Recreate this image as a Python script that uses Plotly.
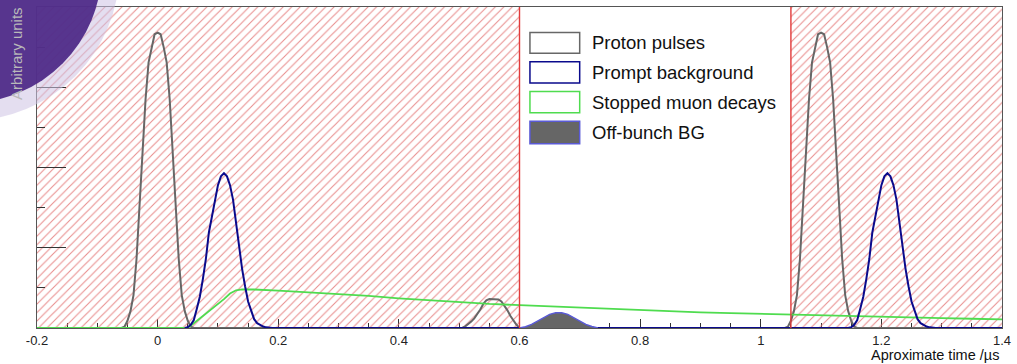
import plotly.graph_objects as go

# ---------------------------------------------------------------- data
# Proton pulses (arbitrary units), three bunches
proton_a_t = [-0.06, -0.055, -0.05, -0.045, -0.04, -0.035, -0.03, -0.025, -0.02, -0.015, -0.01, -0.005,
              0.0, 0.005, 0.01, 0.015, 0.02, 0.025, 0.03, 0.035, 0.04, 0.045, 0.05, 0.055, 0.06]
proton_a_y = [0.0, 0.015, 0.09, 0.21, 0.41, 0.86, 1.52, 2.21, 2.85, 3.31, 3.50, 3.66,
              3.68, 3.66, 3.50, 3.31, 2.85, 2.21, 1.52, 0.86, 0.41, 0.21, 0.09, 0.015, 0.0]

proton_b_t = [0.505, 0.51, 0.515, 0.52, 0.525, 0.53, 0.535, 0.54, 0.545, 0.55, 0.555, 0.56,
              0.565, 0.57, 0.575, 0.58, 0.585, 0.59, 0.595, 0.6]
proton_b_y = [0.0, 0.02, 0.045, 0.08, 0.12, 0.17, 0.23, 0.30, 0.345, 0.36, 0.36, 0.36,
              0.355, 0.33, 0.28, 0.22, 0.15, 0.09, 0.04, 0.0]

proton_c_t = [1.04, 1.045, 1.05, 1.055, 1.06, 1.065, 1.07, 1.075, 1.08, 1.085, 1.09, 1.095,
              1.1, 1.105, 1.11, 1.115, 1.12, 1.125, 1.13, 1.135, 1.14, 1.145, 1.15, 1.155, 1.16]
proton_c_y = [0.0, 0.015, 0.09, 0.21, 0.41, 0.86, 1.52, 2.21, 2.85, 3.31, 3.50, 3.66,
              3.68, 3.66, 3.50, 3.31, 2.85, 2.21, 1.52, 0.86, 0.41, 0.21, 0.09, 0.015, 0.0]

# Prompt background following each main pulse
prompt_a_t = [0.045, 0.05, 0.055, 0.06, 0.065, 0.07, 0.075, 0.08, 0.085, 0.09, 0.095, 0.1, 0.105,
              0.11, 0.115, 0.12, 0.125, 0.13, 0.135, 0.14, 0.145, 0.15, 0.155, 0.16, 0.165,
              0.17, 0.175, 0.18, 0.185, 0.19]
prompt_a_y = [0.0, 0.01, 0.04, 0.10, 0.24, 0.39, 0.61, 0.86, 1.19, 1.40, 1.62, 1.78, 1.89,
              1.93, 1.89, 1.78, 1.60, 1.31, 0.98, 0.74, 0.52, 0.33, 0.22, 0.11, 0.06,
              0.035, 0.018, 0.008, 0.003, 0.0]

prompt_b_t = [1.145, 1.15, 1.155, 1.16, 1.165, 1.17, 1.175, 1.18, 1.185, 1.19, 1.195, 1.2, 1.205,
              1.21, 1.215, 1.22, 1.225, 1.23, 1.235, 1.24, 1.245, 1.25, 1.255, 1.26, 1.265,
              1.27, 1.275, 1.28, 1.285, 1.29]
prompt_b_y = [0.0, 0.01, 0.04, 0.10, 0.24, 0.39, 0.61, 0.86, 1.19, 1.40, 1.62, 1.78, 1.89,
              1.93, 1.89, 1.78, 1.60, 1.31, 0.98, 0.74, 0.52, 0.33, 0.22, 0.11, 0.06,
              0.035, 0.018, 0.008, 0.003, 0.0]

# Stopped muon decays
muon_t = [-0.2, 0.05, 0.06, 0.07, 0.08, 0.09, 0.1, 0.11, 0.12, 0.13, 0.14, 0.15, 0.16,
          0.2, 0.25, 0.3, 0.35, 0.4, 0.45, 0.5, 0.55, 0.6, 0.65, 0.7, 0.75, 0.8, 0.85, 0.9,
          0.95, 1.0, 1.05, 1.1, 1.15, 1.2, 1.25, 1.3, 1.35, 1.4]
muon_y = [0.0, 0.0, 0.06, 0.12, 0.17, 0.23, 0.29, 0.36, 0.43, 0.47, 0.48, 0.48, 0.48,
          0.465, 0.445, 0.425, 0.40, 0.37, 0.345, 0.32, 0.30, 0.285, 0.27, 0.25, 0.235, 0.22,
          0.21, 0.195, 0.185, 0.175, 0.165, 0.155, 0.145, 0.138, 0.13, 0.122, 0.115, 0.108]

# Off-bunch background inside the measurement window
offbunch_t = [0.6, 0.61, 0.62, 0.63, 0.64, 0.65, 0.66, 0.67, 0.68, 0.69, 0.7, 0.71, 0.72, 0.73]
offbunch_y = [0.0, 0.015, 0.045, 0.09, 0.135, 0.17, 0.19, 0.19, 0.17, 0.13, 0.085, 0.045, 0.018, 0.0]

# Vetoed time ranges (hatched) and the measurement-window edges
veto_windows = [(-0.2, 0.6), (1.05, 1.4)]
window_edges = [0.6, 1.05]

x_range = [-0.2, 1.4]
y_range = [0.0, 4.0]
x_tick_vals = [-0.2, 0, 0.2, 0.4, 0.6, 0.8, 1, 1.2, 1.4]
x_tick_text = ["-0.2", "0", "0.2", "0.4", "0.6", "0.8", "1", "1.2", "1.4"]

legend_labels = ["Proton pulses", "Prompt background", "Stopped muon decays", "Off-bunch BG"]

# ---------------------------------------------------------------- styling
W, H = 1017, 364
ML, MR, MT, MB = 37, 10, 6, 36
PW, PH = W - ML - MR, H - MT - MB

GRAY = "#676767"
NAVY = "#0a0a8c"
GREEN = "#4fdc4f"
EDGE = "#5a5ad6"
FILLGRAY = "#666666"
RED = "#e23b3b"
FONT = "Liberation Sans, Arial, sans-serif"


def px_x(p):
    return (p - ML) / PW


def px_y(p):
    return (H - MB - p) / PH


fig = go.Figure()

# hatched veto regions
for lo, hi in veto_windows:
    fig.add_trace(go.Scatter(
        x=[lo, hi, hi, lo, lo], y=[y_range[0], y_range[0], y_range[1], y_range[1], y_range[0]],
        mode="lines", line=dict(width=0), fill="toself",
        fillcolor="rgba(0,0,0,0)",
        fillpattern=dict(shape="/", fgcolor="#e47a7a", bgcolor="rgba(255,255,255,0)",
                         size=6, solidity=0.18, fgopacity=0.85),
        hoverinfo="skip", showlegend=False))

proton_t = [-0.2] + proton_a_t + proton_b_t + proton_c_t + [1.4]
proton_y = [0.0] + proton_a_y + proton_b_y + proton_c_y + [0.0]
prompt_t = prompt_a_t + prompt_b_t + [1.4]
prompt_y = prompt_a_y + prompt_b_y + [0.0]

fig.add_trace(go.Scatter(x=proton_t, y=proton_y, mode="lines",
                         line=dict(color=GRAY, width=2), showlegend=False))
fig.add_trace(go.Scatter(x=muon_t, y=muon_y, mode="lines",
                         line=dict(color=GREEN, width=1.8), showlegend=False))
fig.add_trace(go.Scatter(x=prompt_t, y=prompt_y, mode="lines",
                         line=dict(color=NAVY, width=2), showlegend=False))
fig.add_trace(go.Scatter(x=offbunch_t, y=offbunch_y, mode="lines", fill="tozeroy",
                         fillcolor=FILLGRAY, line=dict(color=EDGE, width=1.5),
                         showlegend=False))

shapes = []
# window edges
for e in window_edges:
    shapes.append(dict(type="line", xref="x", yref="paper", x0=e, x1=e, y0=0, y1=1,
                       line=dict(color=RED, width=1.4), layer="above"))

# legend boxes
box_rows = [(31.7, 52.3), (61.0, 82.3), (90.7, 112.0), (120.7, 143.3)]
box_line = [GRAY, NAVY, GREEN, EDGE]
box_fill = ["white", "white", "white", FILLGRAY]
annotations = []
for (top, bot), lc, fc, lab in zip(box_rows, box_line, box_fill, legend_labels):
    shapes.append(dict(type="rect", xref="paper", yref="paper",
                       x0=px_x(532.5), x1=px_x(582.5), y0=px_y(bot), y1=px_y(top),
                       line=dict(color=lc, width=1.5), fillcolor=fc, layer="above"))
    annotations.append(dict(xref="paper", yref="paper", x=px_x(592.5), y=px_y((top + bot) / 2),
                            text=lab, showarrow=False, xanchor="left", yanchor="middle",
                            font=dict(family=FONT, size=18.5, color="#111111")))

# corner badge
shapes.append(dict(type="circle", xref="paper", yref="paper",
                   x0=px_x(-32 - 152), x1=px_x(-32 + 152), y0=px_y(-32 + 152), y1=px_y(-32 - 152),
                   line=dict(width=0), fillcolor="rgba(205,195,228,0.55)", layer="above"))
shapes.append(dict(type="circle", xref="paper", yref="paper",
                   x0=px_x(-32 - 134), x1=px_x(-32 + 134), y0=px_y(-32 + 134), y1=px_y(-32 - 134),
                   line=dict(width=0), fillcolor="rgba(76,40,134,0.93)", layer="above"))

# axis titles
annotations.append(dict(xref="paper", yref="paper", x=px_x(1006), y=px_y(355),
                        text="Aproximate time /µs", showarrow=False,
                        xanchor="right", yanchor="middle",
                        font=dict(family=FONT, size=14.5, color="#111111")))
annotations.append(dict(xref="paper", yref="paper", x=px_x(17), y=px_y(53),
                        text="Arbitrary units", showarrow=False, textangle=-90,
                        xanchor="center", yanchor="middle",
                        font=dict(family=FONT, size=15, color="#b9b9b9")))

fig.update_layout(
    width=W, height=H,
    margin=dict(l=ML, r=MR, t=MT, b=MB, pad=0),
    paper_bgcolor="white", plot_bgcolor="white",
    showlegend=False,
    shapes=shapes, annotations=annotations,
    xaxis=dict(range=x_range, tickvals=x_tick_vals, ticktext=x_tick_text,
               ticks="inside", ticklen=9, tickwidth=1, tickcolor="#333333",
               minor=dict(ticks="inside", ticklen=5, dtick=0.05, tickcolor="#333333", tickwidth=1),
               showgrid=False, zeroline=False, showline=True, linecolor="#555555", linewidth=1,
               mirror=True, layer="below traces",
               tickfont=dict(family=FONT, size=13, color="#222222")),
    yaxis=dict(range=y_range, dtick=1, tick0=0, showticklabels=False,
               ticks="inside", ticklen=29, tickwidth=1, tickcolor="#333333",
               minor=dict(ticks="inside", ticklen=8, dtick=0.5, tickcolor="#333333", tickwidth=1),
               showgrid=False, zeroline=False, showline=True, linecolor="#555555", linewidth=1,
               mirror=True),
)

fig.write_html("out.html")
